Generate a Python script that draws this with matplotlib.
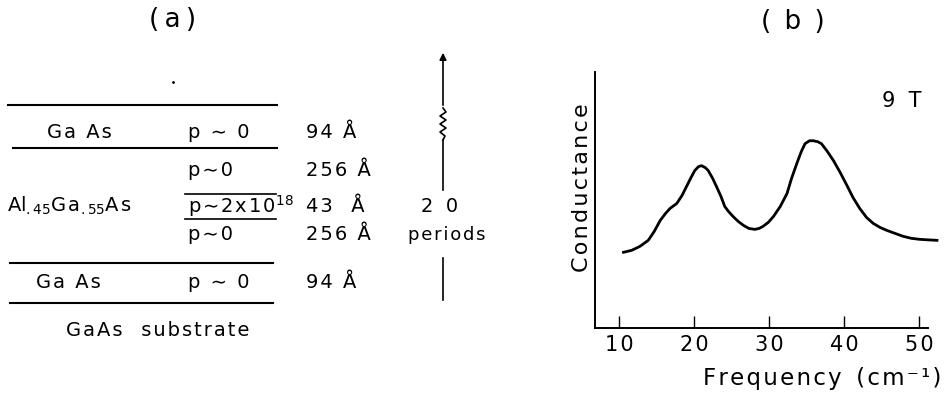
import matplotlib.pyplot as plt
import numpy as np

# conductance trace at 9 T (arbitrary units)
freq = [10.6, 11.7, 12.8, 13.9, 14.7, 15.5, 16.2, 16.8, 17.7, 18.4, 19.0, 19.6,
        20.1, 20.6, 21.0, 21.5, 21.9, 22.5, 23.0, 23.6, 24.1, 24.6, 25.2, 25.9,
        26.6, 27.3, 28.1, 28.7, 29.2, 29.9, 30.6, 31.5, 32.4, 33.0, 33.7, 34.3,
        34.8, 35.4, 35.9, 36.5, 37.0, 37.8, 38.6, 39.5, 40.4, 41.2, 42.1, 43.0,
        43.9, 44.8, 45.7, 46.8, 47.9, 49.0, 50.1, 51.2, 52.4]
cond = [76, 78, 82, 88, 97, 108, 115, 120, 125, 133, 142, 151,
        158, 162, 163, 161, 158, 150, 142, 132, 122, 117, 112, 107,
        103, 100, 99, 100, 102, 106, 112, 122, 135, 150, 165, 177,
        185, 188, 188, 187, 185, 177, 168, 156, 143, 131, 120, 111,
        105, 101, 98, 95, 92, 90, 89, 88.5, 88]
xticks = [10, 20, 30, 40, 50]

HS = '\u200a'  # hair space used for letter spacing


def track(s):
    return HS.join(s)


# layer stack of the sample
layer_names = [track('Ga As'),
               'Al$_{.45}$G' + HS + 'a$_{.55}$A' + HS + 's',
               track('Ga As')]
dopings = [track('p ∼ 0'), track('p∼0'), track('p∼2x10') + '$^{18}$',
           track('p∼0'), track('p ∼ 0')]
widths = [track('94 Å'), track('256 Å'), track('43  Å'), track('256 Å'), track('94 Å')]

W, H = 952, 396
fig = plt.figure(figsize=(W / 100, H / 100), dpi=100)

# panel (a) is drawn in pixel coordinates
ax = fig.add_axes([0, 0, 1, 1])
ax.set_xlim(0, W)
ax.set_ylim(H, 0)
ax.axis('off')

fs = 14
ax.text(173, 20, '(\u2009a\u2009)', fontsize=19, ha='center', va='center')
ax.plot([173], [82], 'k.', ms=2)

for y, x0, x1 in [(105, 8, 277), (148, 13, 277), (263, 10, 273), (303, 10, 273)]:
    ax.plot([x0, x1], [y, y], color='k', lw=1.5)
# thin doped layer
for y in [194, 219]:
    ax.plot([185, 276], [y, y], color='k', lw=1.2)

row_y = [133, 170, 206, 235, 283]
ax.text(79, row_y[0], layer_names[0], fontsize=fs, ha='center', va='center')
ax.text(7, row_y[2], layer_names[1], fontsize=fs, ha='left', va='center')
ax.text(68, row_y[4], layer_names[2], fontsize=fs, ha='center', va='center')
for y, d, w in zip(row_y, dopings, widths):
    ax.text(188, y, d, fontsize=fs, ha='left', va='center')
    ax.text(306, y, w, fontsize=fs, ha='left', va='center')
ax.text(158, 330, track('GaAs') + '   ' + track('substrate'), fontsize=fs,
        ha='center', va='center')

ax.text(440, 206, '2  0', fontsize=fs, ha='center', va='center')
ax.text(447, 235, track('periods'), fontsize=13, ha='center', va='center')

# period marker with break symbol
xa = 443
ax.annotate('', xy=(xa, 50), xytext=(xa, 108),
            arrowprops=dict(arrowstyle='-|>', color='k', lw=1.2, mutation_scale=10))
zy = np.linspace(108, 140, 9)
zx = xa + np.array([0, 3, -3, 3, -3, 3, -3, 2, 0])
ax.plot(zx, zy, color='k', lw=1.2)
ax.plot([xa, xa], [140, 190], color='k', lw=1.2)
ax.plot([xa, xa], [258, 300], color='k', lw=1.2)

# panel (b)
x_lo, x_hi = 6.8, 52.6
bx0, bx1, by0, by1 = 595, 938.5, 328, 72
axb = fig.add_axes([bx0 / W, 1 - by0 / H, (bx1 - bx0) / W, (by0 - by1) / H])
axb.patch.set_alpha(0)
axb.plot(freq, cond, color='k', lw=2)
axb.set_xlim(x_lo, x_hi)
axb.set_ylim(0, 257)
for s in ['top', 'right']:
    axb.spines[s].set_visible(False)
axb.spines['left'].set_linewidth(1.4)
axb.spines['bottom'].set_linewidth(1.4)
axb.spines['bottom'].set_bounds(x_lo, 51.2)
axb.set_yticks([])
axb.set_xticks(xticks)
axb.set_xticklabels([track(str(t)) for t in xticks])
axb.tick_params(axis='x', direction='in', length=9, width=1, labelsize=15, pad=5)
axb.text(47.7, 228, '9  T', fontsize=15, ha='center', va='center')

fig.text(793 / W, 1 - 22 / H, '(\u2002b\u2002)', fontsize=19, ha='center', va='center')
fig.text(582 / W, 1 - 188 / H, track('Conductance'), fontsize=16, rotation=90,
         ha='center', va='center')
fig.text(822 / W, 1 - 378 / H, track('Frequency') + '  ' + track('(cm⁻¹)'),
         fontsize=16.5, ha='center', va='center')

fig.savefig('out.png', dpi=100)
